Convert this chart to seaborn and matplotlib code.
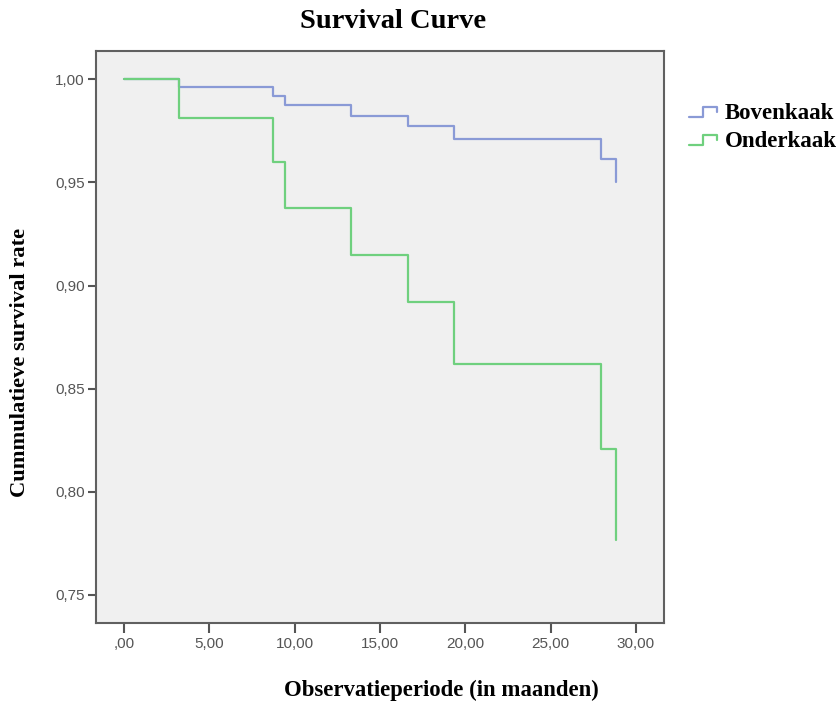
import numpy as np
import pandas as pd
import matplotlib.pyplot as plt
import seaborn as sns
from matplotlib.lines import Line2D
from matplotlib.legend_handler import HandlerBase

# Kaplan-Meier steps
times_boven = [0.0, 3.20, 8.74, 9.41, 13.29, 16.64, 19.36, 27.94, 28.85]
surv_boven = [1.000, 0.9964, 0.9919, 0.9874, 0.9824, 0.9774, 0.9709, 0.9614, 0.9504]

times_onder = [0.0, 3.20, 8.74, 9.41, 13.29, 16.64, 19.36, 27.94, 28.85]
surv_onder = [1.000, 0.9811, 0.9601, 0.9378, 0.9148, 0.8919, 0.8620, 0.8207, 0.7767]

groups = ['Bovenkaak', 'Onderkaak']
colors = ['#8a9ad6', '#6fd07e']

x_ticks = [0, 5, 10, 15, 20, 25, 30]
x_labels = [',00', '5,00', '10,00', '15,00', '20,00', '25,00', '30,00']
y_ticks = [0.75, 0.80, 0.85, 0.90, 0.95, 1.00]
y_labels = ['0,75', '0,80', '0,85', '0,90', '0,95', '1,00']

df = pd.concat([
    pd.DataFrame({'time': times_boven, 'surv': surv_boven, 'group': groups[0]}),
    pd.DataFrame({'time': times_onder, 'surv': surv_onder, 'group': groups[1]}),
], ignore_index=True)

sns.set_style("ticks")
serif = ['Liberation Serif', 'DejaVu Serif']
sans = ['Liberation Sans', 'DejaVu Sans']

W, H = 840, 704
fig = plt.figure(figsize=(W / 100, H / 100), dpi=100)
fig.patch.set_facecolor('white')
ax = fig.add_axes([96 / W, 1 - 623 / H, (664 - 96) / W, (623 - 51) / H])
ax.set_facecolor('#f0f0f0')

sns.lineplot(data=df, x='time', y='surv', hue='group', palette=colors,
             drawstyle='steps-post', estimator=None, sort=False,
             linewidth=1.6, legend=False, ax=ax)

ax.set_xlim(-1.64, 31.65)
ax.set_ylim(0.7364, 1.0137)
ax.set_xticks(x_ticks)
ax.set_xticklabels(x_labels)
ax.set_yticks(y_ticks)
ax.set_yticklabels(y_labels)
ax.tick_params(axis='both', direction='out', colors='#555555', labelcolor='#555555',
               width=1.5, labelsize=11)
ax.tick_params(axis='x', length=7, pad=3)
ax.tick_params(axis='y', length=6, pad=2)
for lab in ax.get_xticklabels() + ax.get_yticklabels():
    lab.set_family(sans)
for sp in ax.spines.values():
    sp.set_visible(True)
    sp.set_color('#606060')
    sp.set_linewidth(1.5)
ax.set_xlabel('')
ax.set_ylabel('')

fig.text(393 / W, 1 - 22 / H, 'Survival Curve', ha='center', va='center', color='black',
         fontsize=20.5, fontweight='bold', family=serif)
fig.text(441 / W, 1 - 690 / H, 'Observatieperiode (in maanden)', ha='center', va='center',
         color='black', fontsize=16.4, fontweight='bold', family=serif)
fig.text(20 / W, 1 - 362 / H, 'Cummulatieve survival rate', ha='center', va='center',
         color='black', rotation=90, fontsize=16.2, fontweight='bold', family=serif)


class StepHandler(HandlerBase):
    def create_artists(self, legend, orig_handle, xdescent, ydescent, width, height, fontsize, trans):
        xs = np.array([0, 0.5, 0.5, 1.0, 1.0]) * width - xdescent
        ys = np.array([0.15, 0.15, 0.75, 0.75, 0.45]) * height - ydescent
        ln = Line2D(xs, ys, color=orig_handle.get_color(), linewidth=1.6)
        ln.set_transform(trans)
        return [ln]


handles = [Line2D([], [], color=c) for c in colors]
leg = fig.legend(handles, groups, loc='upper left', bbox_to_anchor=(689 / W, 1 - 103 / H),
                 frameon=False, handlelength=1.2, handletextpad=0.35, borderpad=0,
                 borderaxespad=0, labelspacing=0.3,
                 handler_map={Line2D: StepHandler()},
                 prop={'family': serif, 'weight': 'bold', 'size': 16.5})
for t in leg.get_texts():
    t.set_color('black')

fig.savefig('out.png', dpi=100)
